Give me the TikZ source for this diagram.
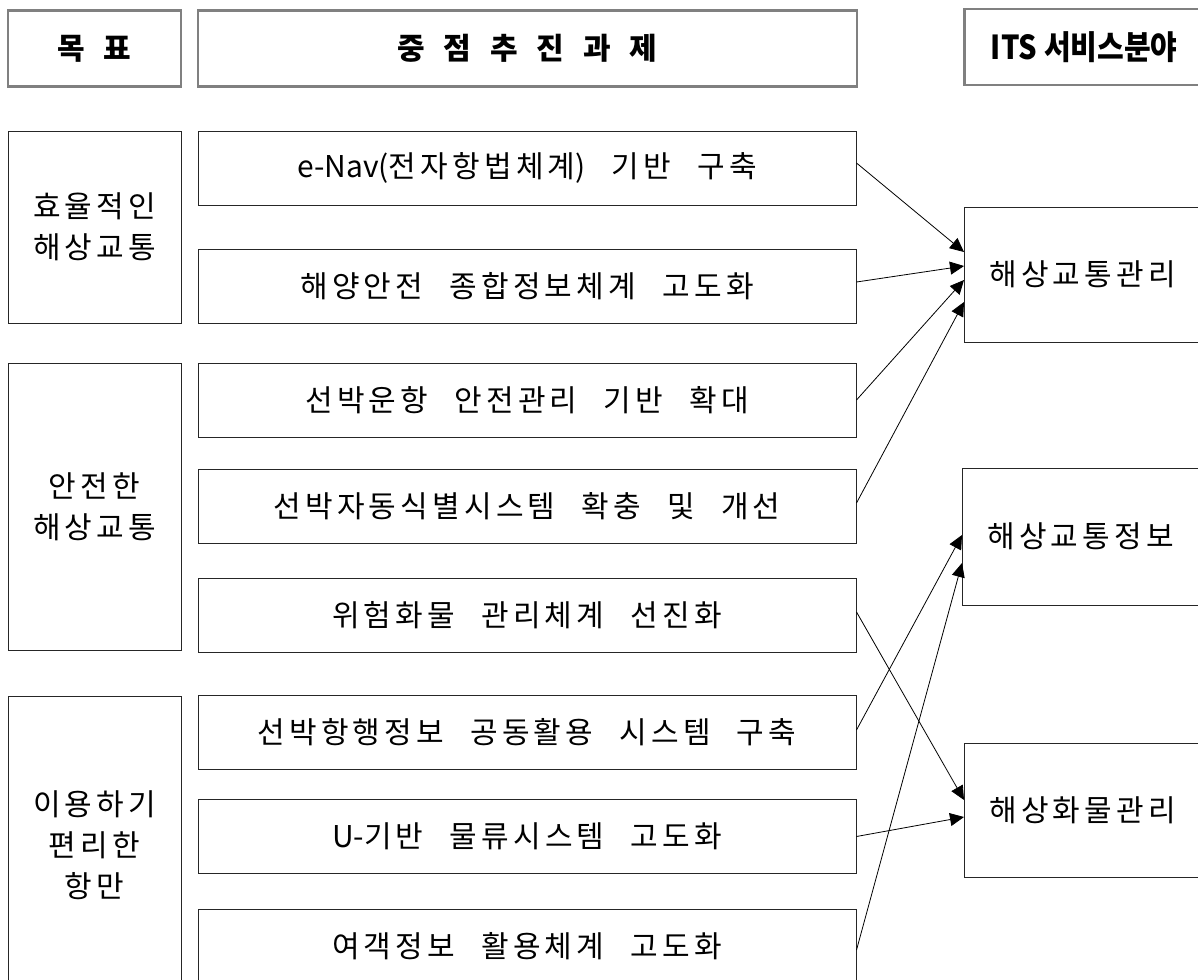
\documentclass[tikz,border=0pt]{standalone}
\usepackage{fontspec}
\setmainfont{Noto Sans CJK KR}[WordSpace=2.4, LetterSpace=14]
\newfontfamily\latinfont{Noto Sans CJK KR}
\newfontfamily\hdfont{Noto Sans CJK KR}[WordSpace=2.75]
\newfontfamily\svcfont{Noto Sans CJK KR}[FakeStretch=0.88]
\usetikzlibrary{arrows.meta,positioning}
\tikzset{
	>={Triangle[length=14pt,width=13pt]}, 
	head/.style={draw=gray, line width=2.5pt, minimum height=76pt, inner sep=0pt, font=\hdfont\bfseries\fontsize{30}{30}\selectfont},
	goal/.style={draw=black!85, line width=1pt, minimum width=173pt, inner sep=0pt, align=center, font=\fontsize{30}{41}\selectfont},
	task/.style={draw=black!85, line width=1pt, minimum width=658pt, minimum height=74pt, inner sep=0pt, font=\fontsize{30}{30}\selectfont},
	svc/.style={draw=black!85, line width=1pt, minimum width=236pt, anchor=west, inner sep=0pt, font=\fontsize{30}{30}\selectfont},
}

\begin{document}
\begin{tikzpicture}[x=1pt, y=-1pt]
	\useasboundingbox (0,0) rectangle (1198,979);
	\clip (0,0) rectangle (1198,979);
	% headers
	\node[head, minimum width=173pt] (hgoal) at (94.5,48.5) {목 표};
	\node[head, minimum width=659pt] (htask) at (527.5,48.5) {중 점 추 진 과 제};
	\node[head, minimum width=240pt, anchor=west, font=\svcfont\bfseries\fontsize{33}{33}\selectfont] (hsvc) at (963,47) {ITS 서비스분야};
	% goals
	\node[goal, minimum height=192pt] (g1) at (94.5,227) {효율적인\\해상교통};
	\node[goal, minimum height=287pt] (g2) at (94.5,506.5) {안전한\\해상교통};
	\node[goal, minimum height=298pt] (g3) at (94.5,845) {이용하기\\편리한\\항만};
	% tasks
	\node[task] (t1) at (527,168) {{\latinfont e-Nav(}전자항법체계{\latinfont)} 기반 구축};
	\node[task] (t2) at (527,286.5) {해양안전 종합정보체계 고도화};
	\node[task] (t3) at (527,400) {선박운항 안전관리 기반 확대};
	\node[task] (t4) at (527,506.5) {선박자동식별시스템 확충 및 개선};
	\node[task] (t5) at (527,615) {위험화물 관리체계 선진화};
	\node[task] (t6) at (527,732) {선박항행정보 공동활용 시스템 구축};
	\node[task] (t7) at (527,836.5) {{\latinfont U-}기반 물류시스템 고도화};
	\node[task] (t8) at (527,946) {여객정보 활용체계 고도화};
	% ITS services
	\node[svc, minimum height=135pt] (s1) at (964,274.5) {해상교통관리};
	\node[svc, minimum height=137pt] (s2) at (962,536.5) {해상교통정보};
	\node[svc, minimum height=134pt] (s3) at (964,810) {해상화물관리};
	% links
	\draw[->, line width=0.8pt] ([yshift=5pt]t1.east) -- ([yshift=22.5pt]s1.west);
	\draw[->, line width=0.8pt] ([yshift=4.5pt]t2.east) -- ([yshift=8.5pt]s1.west);
	\draw[->, line width=0.8pt] (t3.east) -- ([yshift=-5.5pt]s1.west);
	\draw[->, line width=0.8pt] ([yshift=3.5pt]t4.east) -- ([yshift=-27.5pt]s1.west);
	\draw[->, line width=0.8pt] ([yshift=3pt]t5.east) -- ([yshift=10pt]s3.west);
	\draw[->, line width=0.8pt] ([yshift=2pt]t6.east) -- ([yshift=1.5pt]s2.west);
	\draw[->, line width=0.8pt] (t7.east) -- ([yshift=-7pt]s3.west);
	\draw[->, line width=0.8pt] ([yshift=-4pt]t8.east) -- ([yshift=-26.5pt]s2.west);
\end{tikzpicture}
\end{document}
